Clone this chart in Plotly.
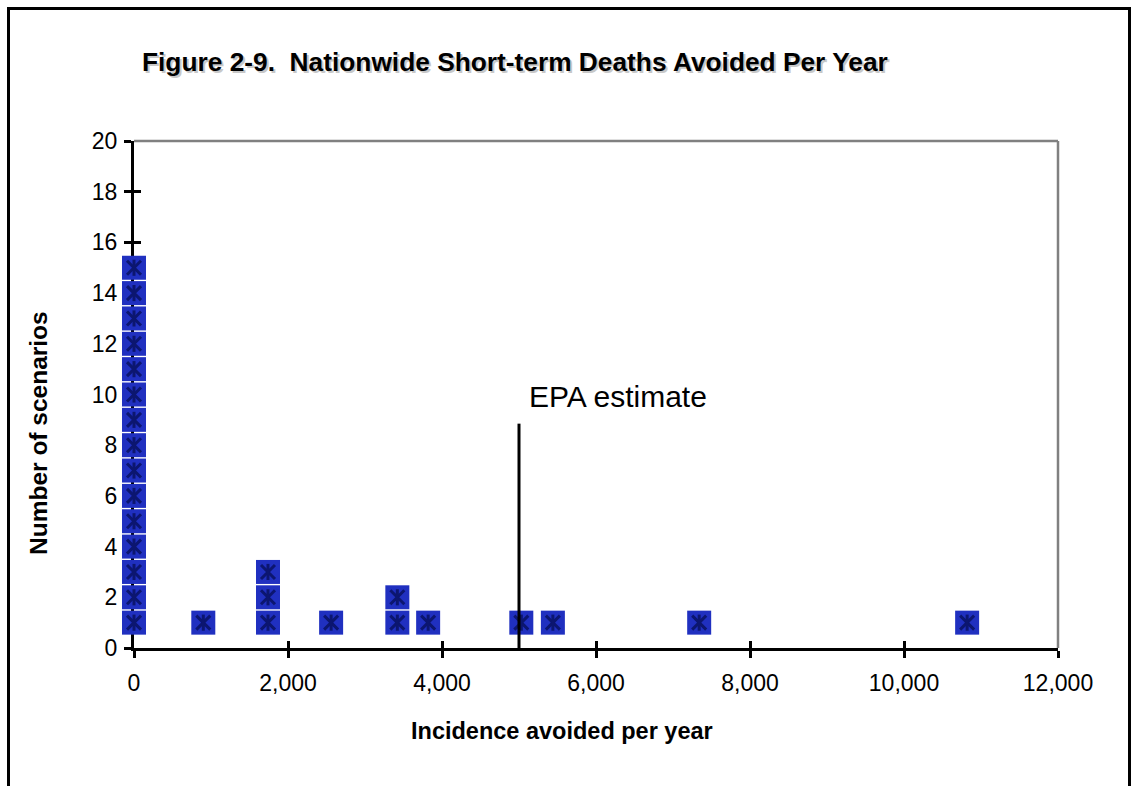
import plotly.graph_objects as go

# data: each point is one scenario, stacked by count at the same incidence
incidence = [0]*15 + [900, 1740, 1740, 1740, 2560, 3420, 3420, 3820, 5030, 5440, 7340, 10820]
stack_y = list(range(1, 16)) + [1, 1, 2, 3, 1, 1, 2, 1, 1, 1, 1, 1]
epa_estimate_x = 5000
epa_line_top = 8.85
x_ticks = [0, 2000, 4000, 6000, 8000, 10000, 12000]
x_tick_labels = ["0", "2,000", "4,000", "6,000", "8,000", "10,000", "12,000"]
y_ticks = list(range(0, 21, 2))

FONT = "Liberation Sans, Arial, sans-serif"
TITLE = "<b>Figure 2-9.  Nationwide Short-term Deaths Avoided Per Year</b>"

fig = go.Figure()
fig.add_trace(go.Scatter(
    x=incidence, y=stack_y, mode="markers", cliponaxis=False,
    marker=dict(symbol="square", size=24, color="#2030c0", line=dict(width=0)),
    hoverinfo="skip", showlegend=False))
fig.add_trace(go.Scatter(
    x=incidence, y=stack_y, mode="markers", cliponaxis=False,
    marker=dict(symbol="x-thin-open", size=14, color="#0c1670",
                line=dict(width=3, color="#0c1670")),
    hoverinfo="skip", showlegend=False))
fig.add_trace(go.Scatter(
    x=incidence, y=stack_y, mode="markers", cliponaxis=False,
    marker=dict(symbol="line-ns-open", size=11.5, color="#0c1670",
                line=dict(width=3, color="#0c1670")),
    hoverinfo="skip", showlegend=False))

fig.update_layout(
    width=1132, height=786,
    margin=dict(l=134, r=74, t=141, b=138),
    paper_bgcolor="white", plot_bgcolor="white",
    font=dict(family=FONT, color="black", size=23),
    xaxis=dict(range=[0, 12000], tickvals=x_ticks, ticktext=x_tick_labels,
               showgrid=False, zeroline=False, showline=True, linecolor="black",
               linewidth=3, ticks="outside", ticklen=7, tickwidth=3, tickcolor="black",
               layer="below traces", ticklabelstandoff=5,
               tickfont=dict(size=23, family=FONT)),
    yaxis=dict(range=[0, 20], tickvals=y_ticks, showgrid=False, zeroline=False,
               showline=True, linecolor="black", linewidth=3, ticks="outside",
               ticklen=7, tickwidth=3, tickcolor="black", layer="below traces",
               ticklabelstandoff=2, tickfont=dict(size=23, family=FONT)),
    xaxis2=dict(range=[0, 12000], tickvals=x_ticks, overlaying="x", anchor="y",
                side="bottom", showticklabels=False, showgrid=False, zeroline=False,
                ticks="inside", ticklen=7, tickwidth=3, tickcolor="black",
                layer="below traces"),
    yaxis2=dict(range=[0, 20], tickvals=y_ticks, overlaying="y", anchor="x",
                side="left", showticklabels=False, showgrid=False, zeroline=False,
                ticks="inside", ticklen=7, tickwidth=3, tickcolor="black",
                layer="below traces"),
)
# dummy trace to activate overlay axes
fig.add_trace(go.Scatter(x=[None], y=[None], xaxis="x2", yaxis="y2",
                         showlegend=False, hoverinfo="skip"))

shapes = [
    # gray top and right plot border
    dict(type="line", xref="paper", yref="paper", x0=0, x1=1, y0=1, y1=1,
         line=dict(color="#808080", width=2.5), layer="below"),
    dict(type="line", xref="paper", yref="paper", x0=1, x1=1, y0=0, y1=1,
         line=dict(color="#808080", width=2.5), layer="below"),
    # EPA estimate line
    dict(type="line", xref="x", yref="y", x0=epa_estimate_x, x1=epa_estimate_x,
         y0=0, y1=epa_line_top, line=dict(color="black", width=3)),
    # outer frame
    dict(type="rect", xref="paper", yref="paper",
         x0=(8.5-134)/924, x1=(1129.5-134)/924, y0=-200/507, y1=(648-8.5)/507,
         line=dict(color="black", width=3)),
]
fig.update_layout(shapes=shapes)

annotations = [
    dict(text=TITLE, xref="paper", yref="paper", x=(141.5-134)/924, y=(648-63.5)/507,
         xanchor="left", yanchor="middle", showarrow=False,
         font=dict(size=26.3, family=FONT, color="#c8c8c8")),
    dict(text=TITLE, xref="paper", yref="paper", x=(140-134)/924, y=(648-62)/507,
         xanchor="left", yanchor="middle", showarrow=False,
         font=dict(size=26.3, family=FONT)),
    dict(text="<b>Number of scenarios</b>", textangle=-90,
         xref="paper", yref="paper", x=(38-134)/924, y=(648-433)/507,
         xanchor="center", yanchor="middle", showarrow=False,
         font=dict(size=24.5, family=FONT)),
    dict(text="<b>Incidence avoided per year</b>",
         xref="paper", yref="paper", x=(562-134)/924, y=(648-731)/507,
         xanchor="center", yanchor="middle", showarrow=False,
         font=dict(size=23.5, family=FONT)),
    dict(text="EPA estimate", xref="x", yref="paper", x=5100,
         y=(648-396)/507, xanchor="left", yanchor="middle", showarrow=False,
         font=dict(size=30, family=FONT)),
]
fig.update_layout(annotations=annotations)

fig.write_html("out.html", config={"displayModeBar": False},
               post_script="document.body.style.margin='0px';document.body.style.padding='0px';")
